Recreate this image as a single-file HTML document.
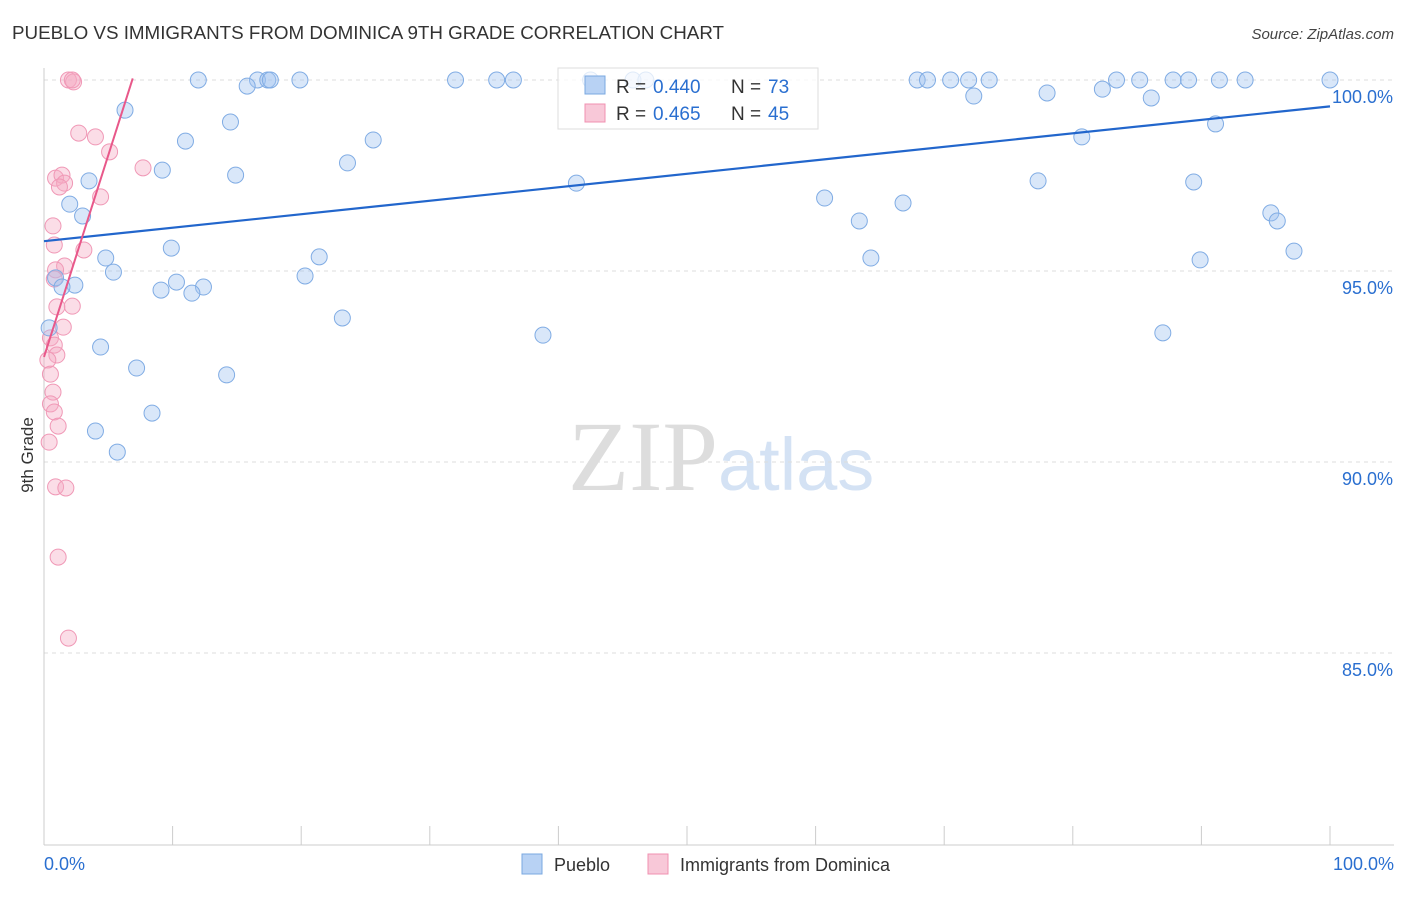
<!DOCTYPE html>
<html><head><meta charset="utf-8"><style>
body{margin:0;background:#fff;font-family:"Liberation Sans",sans-serif}
</style></head><body>
<svg id="c" width="1406" height="892" xmlns="http://www.w3.org/2000/svg" font-family="Liberation Sans, sans-serif">
<text x="12" y="39" font-size="18.8" fill="#333">PUEBLO VS IMMIGRANTS FROM DOMINICA 9TH GRADE CORRELATION CHART</text>
<text x="1394" y="39" font-size="15" fill="#444" text-anchor="end" font-style="italic">Source: ZipAtlas.com</text>
<text x="718" y="490" font-size="100" text-anchor="end" fill="#ddd" font-family="Liberation Serif, serif">ZIP</text>
<text x="718" y="490" font-size="74" fill="#d4e2f4">atlas</text>
<g id="grid"></g>
<g id="axes"></g>
<g id="pts"></g>
<g id="lines"></g>
<text transform="translate(33,455) rotate(-90)" font-size="17" fill="#333" text-anchor="middle">9th Grade</text>
<g>
<rect x="558" y="68" width="260" height="61" fill="rgba(255,255,255,0.75)" stroke="#ddd"/>
<rect x="585" y="76" width="20" height="18" fill="#b8d2f4" stroke="#7aa8e0"/>
<text x="616" y="93" font-size="19" fill="#333">R =</text>
<text x="653" y="93" font-size="19" fill="#2a6fd0">0.440</text>
<text x="731" y="93" font-size="19" fill="#333">N =</text>
<text x="768" y="93" font-size="19" fill="#2a6fd0">73</text>
<rect x="585" y="104" width="20" height="18" fill="#f8c8d8" stroke="#f090b0"/>
<text x="616" y="120" font-size="19" fill="#333">R =</text>
<text x="653" y="120" font-size="19" fill="#2a6fd0">0.465</text>
<text x="731" y="120" font-size="19" fill="#333">N =</text>
<text x="768" y="120" font-size="19" fill="#2a6fd0">45</text>
</g>
<g>
<rect x="522" y="854" width="20" height="20" fill="#b8d2f4" stroke="#7aa8e0"/>
<text x="554" y="871" font-size="18" fill="#333">Pueblo</text>
<rect x="648" y="854" width="20" height="20" fill="#f8c8d8" stroke="#f090b0"/>
<text x="680" y="871" font-size="18" fill="#333">Immigrants from Dominica</text>
</g>
</svg>
<script>
const blueX=[42.5,45.8,46.8,12.0,16.6,17.4,17.6,19.9,15.8,32.0,35.2,36.5,67.9,68.7,70.5,71.9,73.5,83.4,85.2,87.8,89.0,91.4,93.4,100,72.3,78.0,82.3,86.1,6.3,14.5,11.0,25.6,80.7,91.1,23.6,9.2,14.9,3.5,41.4,77.3,89.4,2.0,3.0,60.7,66.8,63.4,95.4,95.9,9.9,4.8,21.4,64.3,89.9,97.2,5.4,20.3,0.9,10.3,2.4,1.4,9.1,12.4,11.5,23.2,38.8,87.0,0.4,4.4,7.2,14.2,8.4,4.0,5.7];
const blueY=[100,100,100,100,100,100,100,100,99.84,100,100,100,100,100,100,100,100,100,100,100,100,100,100,100,99.58,99.66,99.76,99.53,99.21,98.90,98.40,98.43,98.51,98.85,97.83,97.64,97.51,97.36,97.30,97.36,97.33,96.75,96.44,96.91,96.78,96.31,96.52,96.31,95.60,95.34,95.37,95.34,95.29,95.52,94.97,94.87,94.82,94.71,94.63,94.58,94.50,94.58,94.42,93.77,93.32,93.38,93.51,93.01,92.46,92.28,91.28,90.81,90.26];
const pinkX=[1.9,2.3,2.2,2.7,4.0,5.1,7.7,0.9,1.4,1.6,1.2,4.4,0.7,0.8,3.1,1.6,0.9,0.8,2.2,1.0,1.5,0.5,0.8,1.0,0.3,0.5,0.7,0.5,0.8,1.1,0.4,0.9,1.7,1.1,1.9];
const pinkY=[100,99.95,100,98.61,98.51,98.12,97.70,97.43,97.51,97.30,97.20,96.94,96.18,95.68,95.55,95.13,95.03,94.79,94.08,94.06,93.53,93.25,93.06,92.80,92.67,92.30,91.83,91.52,91.31,90.94,90.52,89.35,89.32,87.51,85.39];
const yTicks=[100,95,90,85];
const yTickLabels=["100.0%","95.0%","90.0%","85.0%"];
const blueLine=[[0,95.78],[100,99.31]];
const pinkLine=[[0,92.75],[6.9,100.04]];
const NS="http://www.w3.org/2000/svg";
const X=v=>44+v*12.86, Y=v=>80+(100-v)*38.2;
function mk(t,a,p){const e=document.createElementNS(NS,t);for(const k in a)e.setAttribute(k,a[k]);p.appendChild(e);return e;}
const g=document.getElementById('grid'),ax=document.getElementById('axes'),pts=document.getElementById('pts'),ln=document.getElementById('lines');
yTicks.forEach((t,i)=>{
 const l=mk('line',{x1:44,x2:1394,y1:Y(t),y2:Y(t),stroke:'#ddd','stroke-dasharray':'4,4'},g);
 
 
 const tx=mk('text',{x:1393,y:Y(t)+23,'font-size':18,fill:'#2a6fd0','text-anchor':'end'},ax);
 tx.textContent=yTickLabels[i];
 
 
});
const yl=mk('line',{x1:44,x2:44,y1:68,y2:845,stroke:'#ccc'},ax);


const xl=mk('line',{x1:44,x2:1394,y1:845,y2:845,stroke:'#ccc'},ax);


for(let i=0;i<=10;i++){const t=mk('line',{x1:X(i*10),x2:X(i*10),y1:826,y2:845,stroke:'#ccc'},ax);
 
 }
[[0,"0.0%",'start',44],[100,"100.0%",'end',1394]].forEach(d=>{const t=mk('text',{x:d[3],y:870,'font-size':18,fill:'#2a6fd0','text-anchor':d[2]},ax);t.textContent=d[1];
 
 });
pinkX.forEach((v,i)=>{const c=mk('circle',{cx:X(v),cy:Y(pinkY[i]),r:8,fill:'rgba(245,170,195,0.4)',stroke:'#f098b6','stroke-width':1},pts);
 
 });
blueX.forEach((v,i)=>{const c=mk('circle',{cx:X(v),cy:Y(blueY[i]),r:8,fill:'rgba(160,195,240,0.4)',stroke:'#80ace4','stroke-width':1},pts);
 
 });
const bl=mk('line',{x1:X(blueLine[0][0]),y1:Y(blueLine[0][1]),x2:X(blueLine[1][0]),y2:Y(blueLine[1][1]),stroke:'#2266cc','stroke-width':2.2},ln);


const pl=mk('line',{x1:X(pinkLine[0][0]),y1:Y(pinkLine[0][1]),x2:X(pinkLine[1][0]),y2:Y(pinkLine[1][1]),stroke:'#e8588a','stroke-width':2},ln);


</script>
</body></html>
